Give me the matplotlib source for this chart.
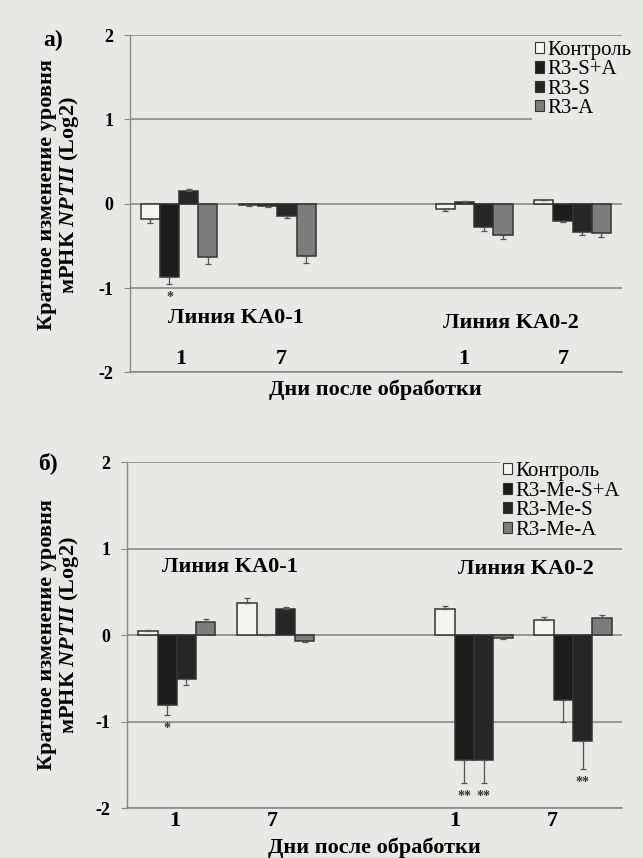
import numpy as np
import matplotlib
matplotlib.use("Agg")
import matplotlib.pyplot as plt
from matplotlib.patches import Patch

plt.rcParams['font.family'] = ['Liberation Serif', 'DejaVu Serif']
plt.rcParams['font.weight'] = 'bold'
plt.rcParams['axes.labelweight'] = 'bold'
plt.rcParams['mathtext.fontset'] = 'custom'
plt.rcParams['mathtext.rm'] = 'Liberation Serif:bold'
plt.rcParams['mathtext.it'] = 'Liberation Serif:italic:bold'

# data
days = ["1", "7", "1", "7"]
group_pos = [0, 1, 3, 4]
lines_text = ["Линия KA0-1", "Линия KA0-2"]

top_names = ["Контроль", "R3-S+A", "R3-S", "R3-A"]
top_control = [-0.18, -0.02, -0.06, 0.04]
top_control_err = [0.05, 0.01, 0.02, 0.01]
top_sa = [-0.87, -0.03, 0.02, -0.20]
top_sa_err = [0.08, 0.01, 0.01, 0.02]
top_s = [0.15, -0.15, -0.27, -0.33]
top_s_err = [0.02, 0.02, 0.05, 0.04]
top_a = [-0.63, -0.62, -0.37, -0.35]
top_a_err = [0.08, 0.08, 0.05, 0.05]
top_stars = [(1, 0, "*")]

bot_names = ["Контроль", "R3-Me-S+A", "R3-Me-S", "R3-Me-A"]
bot_control = [0.05, 0.38, 0.30, 0.18]
bot_control_err = [0.01, 0.05, 0.04, 0.03]
bot_sa = [-0.80, 0.0, -1.44, -0.75]
bot_sa_err = [0.12, 0.0, 0.27, 0.25]
bot_s = [-0.50, 0.30, -1.44, -1.22]
bot_s_err = [0.07, 0.03, 0.27, 0.33]
bot_a = [0.15, -0.07, -0.03, 0.20]
bot_a_err = [0.04, 0.01, 0.01, 0.03]
bot_stars = [(1, 0, "*"), (1, 2, "**"), (2, 2, "**"), (2, 3, "**")]

bg = '#e8e8e6'
colors = ['#f4f4f2', '#1c1c1c', '#262626', '#7c7c7c']
grid_c = '#8a8a8a'
w = 0.195


def draw(ax, names, series, errs, stars, ticks_inside, line_xy, tick_shift):
    ax.set_facecolor(bg)
    x = np.array(group_pos, dtype=float)
    for i, (vals, err) in enumerate(zip(series, errs)):
        vals = np.array(vals)
        err = np.array(err)
        xi = x + (i - 1.5) * w
        ax.bar(xi, vals, w, color=colors[i], edgecolor='#333333',
               linewidth=1.1, zorder=3, label=names[i])
        lo = np.where(vals < 0, err, 0)
        hi = np.where(vals >= 0, err, 0)
        ax.errorbar(xi, vals, yerr=[lo, hi], fmt='none', ecolor='#555555',
                    elinewidth=0.9, capsize=2, capthick=0.9, zorder=4)
    for i, g, s in stars:
        v = series[i][g]
        e = errs[i][g]
        ax.text(x[g] + (i - 1.5) * w, v - e - 0.08, s, ha='center', va='top',
                fontsize=10, color='#333333', zorder=5)
    for (lx, ly), t in zip(line_xy, lines_text):
        ax.text(lx, ly, t, ha='center', va='center', fontsize=16)

    ax.set_xlim(-0.5, 4.5)
    ax.set_ylim(-2, 2)
    ax.set_yticks([-2, -1, 0, 1, 2])
    ax.set_yticklabels(['-2', '-1', '0', '1', '2'])
    ax.yaxis.grid(True, color=grid_c, linewidth=1.2, zorder=0)
    ax.set_axisbelow(True)
    ax.set_xticks(x + np.array(tick_shift))
    ax.set_xticklabels(days)
    for sp in ['top', 'right']:
        ax.spines[sp].set_visible(False)
    ax.spines['left'].set_color(grid_c)
    ax.spines['left'].set_linewidth(1.0)
    ax.spines['bottom'].set_color(grid_c)
    ax.spines['bottom'].set_linewidth(1.2)
    ax.tick_params(axis='y', length=4, color=grid_c, labelsize=13, pad=8)
    if ticks_inside:
        ax.tick_params(axis='x', length=0, labelsize=16, pad=-17)
    else:
        ax.tick_params(axis='x', length=0, labelsize=16, pad=2)


fig = plt.figure(figsize=(6.43, 8.58), dpi=100)
fig.patch.set_facecolor(bg)

ax1 = fig.add_axes([0.202, 0.566, 0.765, 0.393])
draw(ax1, top_names, [top_control, top_sa, top_s, top_a],
     [top_control_err, top_sa_err, top_s_err, top_a_err], top_stars, True,
     [(0.58, -1.36), (3.37, -1.42)], [0.02, 0.04, -0.11, -0.10])
ax1.set_xlabel("Дни после обработки", fontsize=16, labelpad=5)

ax2 = fig.add_axes([0.198, 0.058, 0.770, 0.403])
draw(ax2, bot_names, [bot_control, bot_sa, bot_s, bot_a],
     [bot_control_err, bot_sa_err, bot_s_err, bot_a_err], bot_stars, False,
     [(0.54, 0.79), (3.53, 0.77)], [-0.02, -0.04, -0.19, -0.21])
ax2.set_xlabel("Дни после обработки", fontsize=16, labelpad=5)

for ax, names, anchor in [(ax1, top_names, (0.811, 0.968)), (ax2, bot_names, (0.761, 0.477))]:
    handles = [Patch(facecolor=colors[i], edgecolor='#333333', linewidth=0.8, label=names[i])
               for i in range(4)]
    leg = fig.legend(handles=handles, loc='upper left', bbox_to_anchor=anchor,
                     handlelength=0.45, handleheight=0.45,
                     handletextpad=0.15, labelspacing=0.02, borderpad=0.15,
                     frameon=True, facecolor=bg, edgecolor=bg, framealpha=1,
                     prop={'weight': 'normal', 'size': 15})

ylab = "Кратное изменение уровня\nмРНК $\\it{NPTII}$ (Log2)"
fig.text(59 / 643, 1 - 195 / 858, ylab, rotation=90, ha='center', va='center',
         fontsize=16, multialignment='center', linespacing=1.0)
fig.text(59 / 643, 1 - 635 / 858, ylab, rotation=90, ha='center', va='center',
         fontsize=16, multialignment='center', linespacing=1.0)
fig.text(53 / 643, 1 - 40 / 858, "а)", ha='center', va='center', fontsize=17)
fig.text(48 / 643, 1 - 463 / 858, "б)", ha='center', va='center', fontsize=17)

fig.savefig("out.png", dpi=100, facecolor=bg)
